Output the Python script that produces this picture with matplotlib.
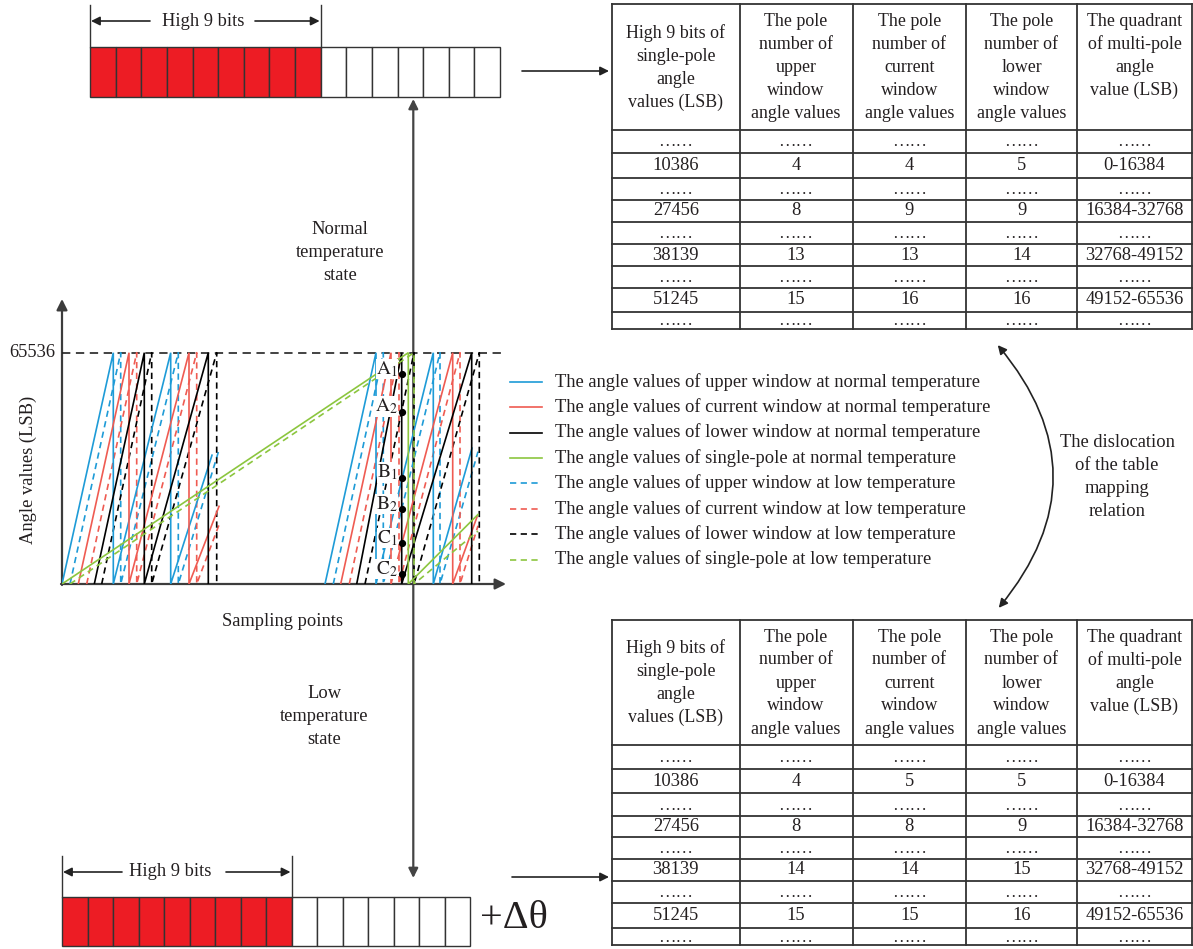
import matplotlib
matplotlib.use("Agg")
import matplotlib.pyplot as plt
from matplotlib.patches import Rectangle, FancyArrowPatch
import numpy as np

plt.rcParams['font.family'] = ['Liberation Serif', 'DejaVu Serif']
plt.rcParams['mathtext.fontset'] = 'stix'
plt.rcParams['lines.scale_dashes'] = False

W, H = 1193, 949
FULL = 65536
INK = '#231f20'
BLUE, RED, GREEN = '#1e9bd7', '#ef5b52', '#8cc63f'

# ---- sawtooth ramps: (x_start, x_end, value at x_end); a ramp reaching FULL wraps to 0
upper_normal = [(0, 51.3, FULL), (51.3, 108.7, FULL), (108.7, 150, 36500),
                (263, 314, FULL), (314, 371.3, FULL), (371.3, 410, 38500)]
upper_low = [(8, 58.7, FULL), (58.7, 116.3, FULL), (116.3, 157, 38000),
             (271.3, 321.3, FULL), (321.3, 378, FULL), (378, 416, 37500)]
current_normal = [(16.3, 67, FULL), (67, 127, FULL), (127, 157, 22000),
                  (278.7, 329, FULL), (329, 390.7, FULL), (390.7, 415, 19000)]
current_low = [(24.7, 74.7, FULL), (74.7, 134.7, FULL), (134.7, 158, 17500),
               (287.3, 337, FULL), (337, 398, FULL), (398, 416, 16500)]
lower_normal = [(32.3, 82.3, FULL), (82.3, 146.3, FULL),
                (294.7, 339.7, FULL), (339.7, 409.7, FULL)]
lower_low = [(39.7, 89.7, FULL), (89.7, 154.7, FULL),
             (303, 352, FULL), (352, 417.3, FULL)]
single_normal = [(0, 346.3, FULL), (346.3, 416, 19700)]
single_low = [(8, 352, FULL), (352, 416, 15000)]

series = [
    (upper_normal, BLUE, '-', 'The angle values of upper window at normal temperature'),
    (current_normal, RED, '-', 'The angle values of current window at normal temperature'),
    (lower_normal, 'black', '-', 'The angle values of lower window at normal temperature'),
    (single_normal, GREEN, '-', 'The angle values of single-pole at normal temperature'),
    (upper_low, BLUE, '--', 'The angle values of upper window at low temperature'),
    (current_low, RED, '--', 'The angle values of current window at low temperature'),
    (lower_low, 'black', '--', 'The angle values of lower window at low temperature'),
    (single_low, GREEN, '--', 'The angle values of single-pole at low temperature'),
]

# marked sampling instant and its angle values
mark_x = 339.7
mark_names = ['A', 'A', 'B', 'B', 'C', 'C']
mark_subs = ['1', '2', '1', '2', '1', '2']
mark_vals = [59400, 48800, 30100, 21200, 11500, 2750]

# mapping tables
col_headers = [
    ['High 9 bits of', 'single-pole', 'angle', 'values (LSB)'],
    ['The pole', 'number of', 'upper', 'window', 'angle values'],
    ['The pole', 'number of', 'current', 'window', 'angle values'],
    ['The pole', 'number of', 'lower', 'window', 'angle values'],
    ['The quadrant', 'of multi-pole', 'angle', 'value (LSB)'],
]
high_bits_vals = ['10386', '27456', '38139', '51245']
quadrants = ['0-16384', '16384-32768', '32768-49152', '49152-65536']
normal_upper = ['4', '8', '13', '15']
normal_current = ['4', '9', '13', '16']
normal_lower = ['5', '9', '14', '16']
low_upper = ['4', '8', '14', '15']
low_current = ['5', '8', '14', '15']
low_lower = ['5', '9', '15', '16']

n_bits = 16
n_high = 9

fig = plt.figure(figsize=(W / 100, H / 100), dpi=100)
ov = fig.add_axes([0, 0, 1, 1], zorder=0)
ov.set_xlim(0, W)
ov.set_ylim(H, 0)
ov.axis('off')

# ---------------- chart panel ----------------
X0, Y0, XLEN, YLEN, YFULL = 62, 584, 443, 284, 231.3
ax = fig.add_axes([X0 / W, (H - Y0) / H, XLEN / W, YLEN / H], zorder=2)
ax.set_xlim(0, XLEN)
ax.set_ylim(0, FULL * YLEN / YFULL)
ax.axis('off')


def saw_path(ramps):
    xs, ys = [], []
    prev_end = None
    for x0, x1, v in ramps:
        if prev_end is not None and abs(prev_end - x0) > 1e-6:
            xs.append(np.nan)
            ys.append(np.nan)
        xs += [x0, x1]
        ys += [0, v]
        if v >= FULL:
            xs.append(x1)
            ys.append(0)
        prev_end = x1
    return xs, ys


ax.plot([0, XLEN - 2], [FULL, FULL], color='#222', lw=1.2, dashes=(6, 4), zorder=1)
draw_order = [4, 5, 6, 0, 1, 2, 7, 3]
for i in draw_order:
    ramps, col, ls, lab = series[i]
    xs, ys = saw_path(ramps)
    kw = dict(color=col, lw=1.2, solid_joinstyle='miter', zorder=3)
    if ls == '--':
        kw['dashes'] = (4.5, 3.2)
    ax.plot(xs, ys, **kw)

ax.plot([mark_x] * len(mark_vals), mark_vals, 'o', color='black', ms=4.2, zorder=6)
for nm, sb, v in zip(mark_names, mark_subs, mark_vals):
    ax.text(mark_x - 4, v + 1500, r'$\mathrm{%s}_{%s}$' % (nm, sb), ha='right', va='center',
            fontsize=14, color=INK, zorder=5,
            bbox=dict(fc='white', ec='none', pad=0.3))

ax.text(-7, FULL, '65536', ha='right', va='center', fontsize=13.3, color=INK, clip_on=False)

# axes with arrow heads
AXC = '#3c3c3c'
arrow_kw = dict(arrowstyle='-|>', color=AXC, lw=1.6, mutation_scale=16, shrinkA=0, shrinkB=0)
ov.annotate('', xy=(X0, 299), xytext=(X0, Y0 + 1), arrowprops=arrow_kw, zorder=3)
ov.annotate('', xy=(506, Y0), xytext=(X0 - 1, Y0), arrowprops=arrow_kw, zorder=3)

ov.text(28, 470, 'Angle values (LSB)', rotation=90, ha='center', va='center', fontsize=13.3, color=INK)
ov.text(282, 621, 'Sampling points', ha='center', va='center', fontsize=13.3, color=INK)

# central vertical arrow
vk = dict(arrowstyle='-|>', color='#444', lw=1.6, mutation_scale=14, shrinkA=0, shrinkB=0)
ov.annotate('', xy=(413.3, 99), xytext=(413.3, 480), arrowprops=vk, zorder=1)
ov.annotate('', xy=(413.3, 878), xytext=(413.3, 480), arrowprops=vk, zorder=1)

for i, line in enumerate(['Normal', 'temperature', 'state']):
    ov.text(340, 229 + 23.5 * i, line, ha='center', va='center', fontsize=13.3, color=INK)
for i, line in enumerate(['Low', 'temperature', 'state']):
    ov.text(324, 693 + 23.5 * i, line, ha='center', va='center', fontsize=13.3, color=INK)

# ---------------- legend ----------------
leg_y0, leg_dy = 381.7, 25.4
for k, (ramps, col, ls, lab) in enumerate(series):
    y = leg_y0 + leg_dy * k
    kw = dict(color=col, lw=1.2)
    if ls == '--':
        kw['dashes'] = (4.5, 3.2)
    ov.plot([510, 542], [y, y], **kw)
    ov.text(555, y, lab, ha='left', va='center', fontsize=13.35, color=INK)

# ---------------- bit registers ----------------
def register(x0, y0, x1, y1, label_x, label_y, arr_l, arr_r):
    cw = (x1 - x0) / n_bits
    for b in range(n_bits):
        fc = '#ed1c24' if b < n_high else 'white'
        ov.add_patch(Rectangle((x0 + b * cw, y0), cw, y1 - y0, fc=fc, ec='#333', lw=1.0))
    xh = x0 + n_high * cw
    ov.plot([x0, x0], [label_y - 16, y0], color='#333', lw=1.0)
    ov.plot([xh, xh], [label_y - 16, y0], color='#333', lw=1.0)
    ak = dict(arrowstyle='-|>', color='#222', lw=1.2, mutation_scale=13, shrinkA=0, shrinkB=0)
    ov.annotate('', xy=(x0 + 1, label_y), xytext=(arr_l, label_y), arrowprops=ak)
    ov.annotate('', xy=(xh - 1, label_y), xytext=(arr_r, label_y), arrowprops=ak)
    ov.text(label_x, label_y, 'High 9 bits', ha='center', va='center', fontsize=13.3, color=INK)


register(90, 47, 500, 97, 203, 21, 150, 255)
register(62, 897, 470, 946, 170, 872, 122, 226)
ov.text(480, 918, '+Δθ', ha='left', va='center', fontsize=29, color=INK)

ak2 = dict(arrowstyle='-|>', color='#222', lw=1.2, mutation_scale=13, shrinkA=0, shrinkB=0)
ov.annotate('', xy=(609, 71), xytext=(522, 71), arrowprops=ak2)
ov.annotate('', xy=(609, 877), xytext=(512, 877), arrowprops=ak2)

# ---------------- tables ----------------
col_x = [612, 739.5, 852.5, 966, 1077, 1192]


def draw_table(row_y, c_up, c_cur, c_low):
    top, bot = row_y[0], row_y[-1]
    for y in row_y:
        ov.plot([col_x[0], col_x[-1]], [y, y], color='#333', lw=1.3)
    for x in col_x:
        ov.plot([x, x], [top, bot], color='#333', lw=1.3)
    cx = [(col_x[i] + col_x[i + 1]) / 2 for i in range(5)]
    hdr_top = top + 17.5
    for c, lines in enumerate(col_headers):
        if c == 0:
            start = hdr_top + 23 * (5 - len(lines)) / 2
        else:
            start = hdr_top
        for j, ln in enumerate(lines):
            ov.text(cx[c], start + 23 * j, ln, ha='center', va='center', fontsize=12.9, color=INK)
    body = list(zip(high_bits_vals, c_up, c_cur, c_low, quadrants))
    rows = []
    for r in body:
        rows.append(['……'] * 5)
        rows.append(list(r))
    rows.append(['……'] * 5)
    for k, r in enumerate(rows):
        yc = (row_y[k + 1] + row_y[k + 2]) / 2
        for c, t in enumerate(r):
            if t == '……':
                ov.text(cx[c], yc + 1, t, ha='center', va='center', fontsize=12.5, color=INK)
            else:
                ov.text(cx[c], yc, t, ha='center', va='center', fontsize=13.3, color=INK)


draw_table([4, 129.5, 153, 178, 199.5, 221.5, 244, 266, 287.5, 311.5, 328.5],
           normal_upper, normal_current, normal_lower)
draw_table([619.5, 745, 769, 793, 816, 837, 859, 881, 902.5, 928, 945],
           low_upper, low_current, low_lower)

# ---------------- dislocation arrow ----------------
ov.add_patch(FancyArrowPatch((996, 343), (997, 610), connectionstyle='arc3,rad=-0.42',
                             arrowstyle='<|-|>', mutation_scale=13, lw=1.2, color='#222'))
for i, line in enumerate(['The dislocation', 'of the table', 'mapping', 'relation']):
    ov.text(1117, 442 + 23 * i, line, ha='center', va='center', fontsize=13.3, color=INK)

fig.savefig('out.png', dpi=100)
